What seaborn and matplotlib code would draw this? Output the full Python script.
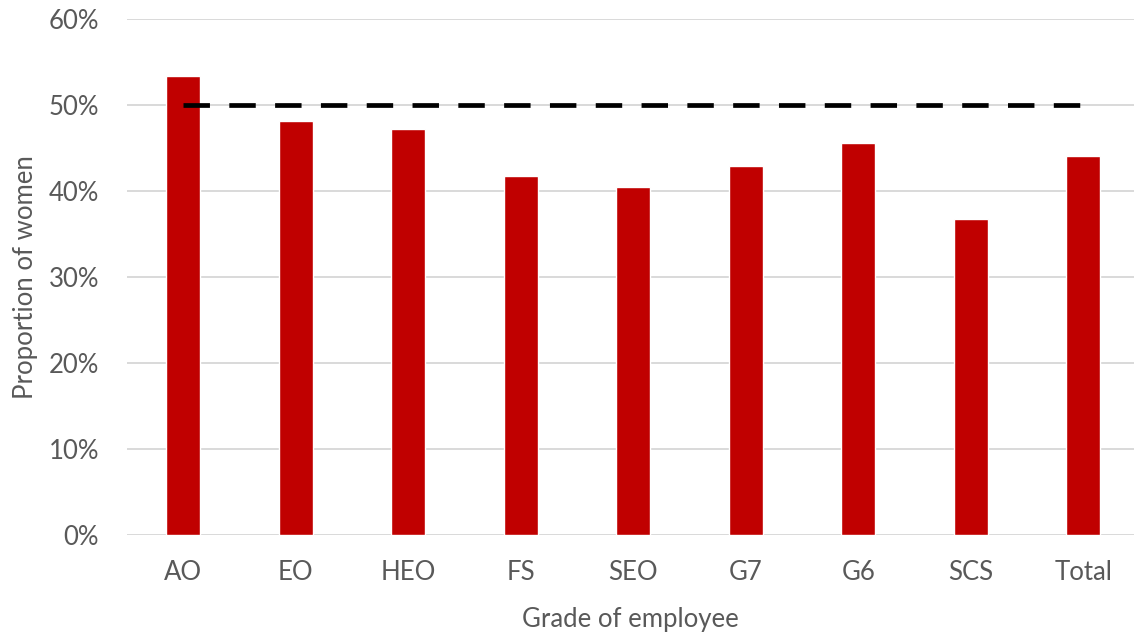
import matplotlib
matplotlib.use("Agg")
import matplotlib.pyplot as plt
import matplotlib.ticker as mticker
import seaborn as sns
import pandas as pd

grades = ["AO", "EO", "HEO", "FS", "SEO", "G7", "G6", "SCS", "Total"]
share_women = [0.534, 0.482, 0.472, 0.417, 0.405, 0.429, 0.456, 0.367, 0.441]
parity = 0.50

df = pd.DataFrame({"grade": grades, "share": share_women})

sns.set_theme(style="white")
plt.rcParams["font.family"] = ["Lato", "DejaVu Sans"]

fig = plt.figure(figsize=(11.34, 6.36), dpi=100)
ax = fig.add_axes([0.112, 0.159, 0.888, 0.811])

ax.yaxis.grid(True, color="#d9d9d9", linewidth=1.4)
ax.set_axisbelow(True)

sns.barplot(data=df, x="grade", y="share", color="#c00000", width=0.3,
            saturation=1, ax=ax)

# parity reference line across the grades
ax.plot([0, len(grades) - 1], [parity, parity], color="black",
        linewidth=3.4, dashes=(5.6, 4.1), solid_capstyle="butt",
        dash_capstyle="butt", zorder=3)

ax.set_ylim(0, 0.6)
ax.set_xlim(-0.5, 8.45)
ax.yaxis.set_major_locator(mticker.MultipleLocator(0.1))
ax.yaxis.set_major_formatter(mticker.PercentFormatter(1.0, decimals=0))

for s in ax.spines.values():
    s.set_visible(False)

ax.tick_params(axis="both", length=0, labelsize=18.5, colors="#595959")
ax.tick_params(axis="y", pad=20)
ax.tick_params(axis="x", pad=18)

ax.set_xlabel("Grade of employee", fontsize=18.5, color="#595959", labelpad=16)
ax.set_ylabel("Proportion of women", fontsize=18.5, color="#595959", labelpad=8)

fig.savefig("out.png", dpi=100)
